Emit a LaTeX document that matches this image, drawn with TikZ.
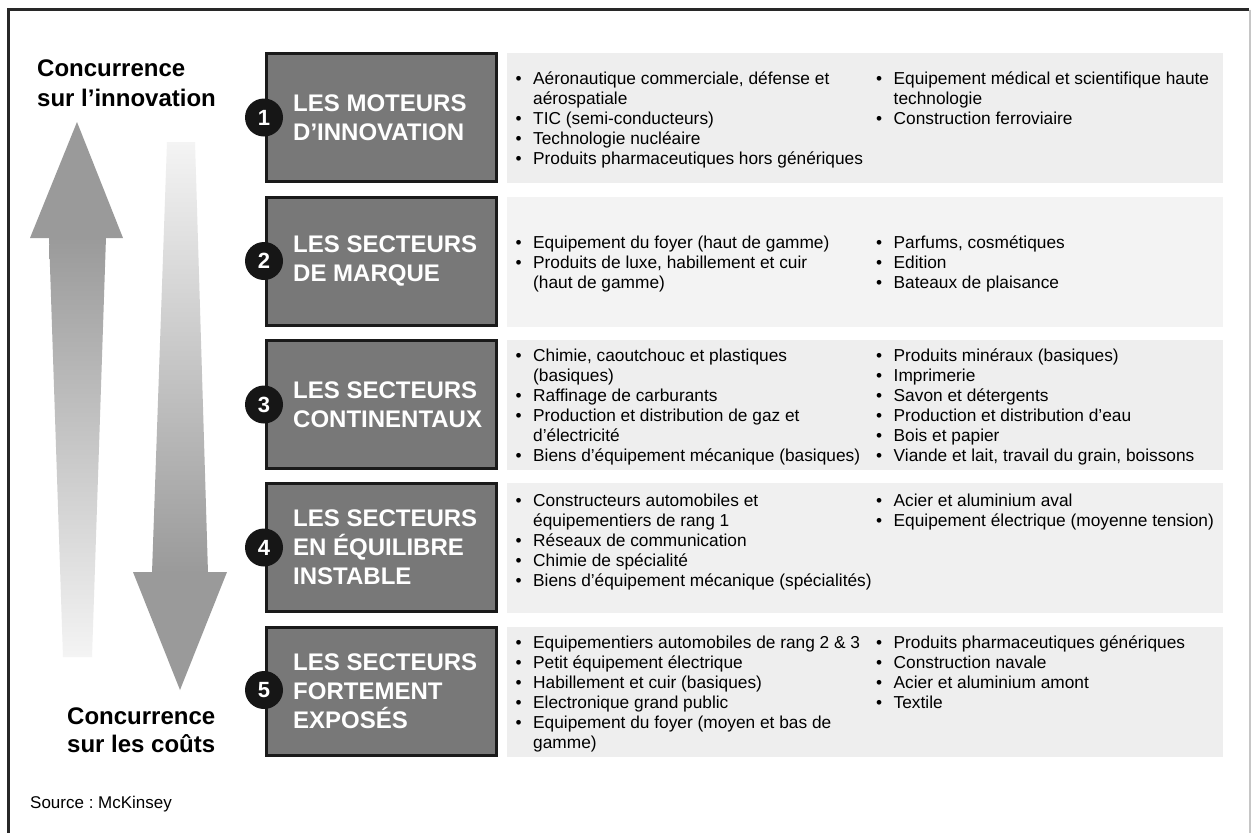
\documentclass[tikz,border=0pt]{standalone}
\usepackage{fontspec}
\setmainfont{Liberation Sans}
\frenchspacing
\definecolor{boxedge}{RGB}{26,26,26}
\definecolor{darkfill}{RGB}{120,120,120}
\definecolor{dotblack}{RGB}{22,22,22}
\definecolor{arrowgray}{RGB}{154,154,154}
\definecolor{fadegray}{RGB}{244,244,244}
\definecolor{bgA}{RGB}{238,238,238}
\definecolor{bgB}{RGB}{243,243,243}
\definecolor{bgC}{RGB}{240,240,240}
\definecolor{framegray}{RGB}{40,40,40}
\newcommand\itembul{\makebox[17.5pt][l]{\textbullet}}
\newcommand\itemcont{\hspace*{17.5pt}}
\begin{document}
\begin{tikzpicture}[x=1pt,y=-1pt,
  sector/.style={draw=boxedge, line width=3pt, fill=darkfill, minimum width=230pt, minimum height=128pt, inner sep=0pt},
  listbg/.style={fill=#1, minimum width=716pt, minimum height=130pt, inner sep=0pt},
  numdot/.style={circle, fill=dotblack, minimum size=38pt, inner sep=0pt, text=white, font=\fontsize{22}{22}\selectfont\bfseries},
  head/.style={anchor=west, align=left, text=white, inner sep=0pt, font=\fontsize{24}{29}\selectfont\bfseries},
  items/.style={anchor=north west, align=left, inner sep=0pt, font=\fontsize{17.3}{20}\selectfont},
  side/.style={anchor=north west, align=left, inner sep=0pt, font=\fontsize{24}{#1}\selectfont\bfseries}
]
\useasboundingbox (0,0) rectangle (1251,833);
\fill[white] (0,0) rectangle (1251,833);

% frame
\draw[line width=2.2pt, framegray] (8.5,833) -- (8.5,9.5) -- (1249,9.5);
\draw[line width=1.2pt, gray!45] (1250,9.5) -- (1250,833);

% upward arrow: innovation
\shade[top color=arrowgray, bottom color=fadegray] (49,237) -- (106,237) -- (92,657) -- (63,657) -- cycle;
\fill[arrowgray] (30,238) -- (77,122) -- (123,238) -- cycle;

% downward arrow: costs
\shade[top color=fadegray, bottom color=arrowgray] (167,142) -- (195,142) -- (208,573) -- (152,573) -- cycle;
\fill[arrowgray] (133,572) -- (227,572) -- (180,690) -- cycle;

\node[side=30] (topcap) at (37,60) {Concurrence\\sur l’innovation};
\node[side=28] (botcap) at (67,708) {Concurrence\\sur les coûts};

% list backgrounds
\node[listbg=bgA] (bg1) at (865,118) {};
\node[listbg=bgB] (bg2) at (865,262) {};
\node[listbg=bgA] (bg3) at (865,405) {};
\node[listbg=bgC] (bg4) at (865,548) {};
\node[listbg=bgA] (bg5) at (865,692) {};

% sector boxes
\node[sector] (s1) at (381.5,117.5) {};
\node[sector] (s2) at (381.5,261) {};
\node[sector] (s3) at (381.5,404.5) {};
\node[sector] (s4) at (381.5,547.5) {};
\node[sector] (s5) at (381.5,691) {};

\node[head] (h1) at (293,117.5) {LES MOTEURS\\D’INNOVATION};
\node[head] (h2) at (293,261) {LES SECTEURS\\DE MARQUE};
\node[head] (h3) at (293,404.5) {LES SECTEURS\\CONTINENTAUX};
\node[head] (h4) at (293,547.5) {LES SECTEURS\\EN ÉQUILIBRE\\INSTABLE};
\node[head] (h5) at (293,691) {LES SECTEURS\\FORTEMENT\\EXPOSÉS};

\node[numdot] (n1) at (264,117.5) {1};
\node[numdot] (n2) at (264,261) {2};
\node[numdot] (n3) at (264,404.5) {3};
\node[numdot] (n4) at (264,547.5) {4};
\node[numdot] (n5) at (264,690) {5};

% sector 1
\node[items] (a1) at (515.5,70) {\strut\itembul Aéronautique commerciale, défense et\\\itemcont aérospatiale\\\itembul TIC (semi-conducteurs)\\\itembul Technologie nucléaire\\\itembul Produits pharmaceutiques hors génériques};
\node[items] (b1) at (876,70) {\strut\itembul Equipement médical et scientifique haute\\\itemcont technologie\\\itembul Construction ferroviaire};

% sector 2
\node[items] (a2) at (515.5,234) {\strut\itembul Equipement du foyer (haut de gamme)\\\itembul Produits de luxe, habillement et cuir\\\itemcont (haut de gamme)};
\node[items] (b2) at (876,234) {\strut\itembul Parfums, cosmétiques\\\itembul Edition\\\itembul Bateaux de plaisance};

% sector 3
\node[items] (a3) at (515.5,347) {\strut\itembul Chimie, caoutchouc et plastiques\\\itemcont (basiques)\\\itembul Raffinage de carburants\\\itembul Production et distribution de gaz et\\\itemcont d’électricité\\\itembul Biens d’équipement mécanique (basiques)};
\node[items] (b3) at (876,347) {\strut\itembul Produits minéraux (basiques)\\\itembul Imprimerie\\\itembul Savon et détergents\\\itembul Production et distribution d’eau\\\itembul Bois et papier\\\itembul Viande et lait, travail du grain, boissons};

% sector 4
\node[items] (a4) at (515.5,492) {\strut\itembul Constructeurs automobiles et\\\itemcont équipementiers de rang 1\\\itembul Réseaux de communication\\\itembul Chimie de spécialité\\\itembul Biens d’équipement mécanique (spécialités)};
\node[items] (b4) at (876,492) {\strut\itembul Acier et aluminium aval\\\itembul Equipement électrique (moyenne tension)};

% sector 5
\node[items] (a5) at (515.5,634) {\strut\itembul Equipementiers automobiles de rang 2 \& 3\\\itembul Petit équipement électrique\\\itembul Habillement et cuir (basiques)\\\itembul Electronique grand public\\\itembul Equipement du foyer (moyen et bas de\\\itemcont gamme)};
\node[items] (b5) at (876,634) {\strut\itembul Produits pharmaceutiques génériques\\\itembul Construction navale\\\itembul Acier et aluminium amont\\\itembul Textile};

\node[anchor=base west, inner sep=0pt, font=\fontsize{17}{20}\selectfont] (src) at (30,808) {Source : McKinsey};
\end{tikzpicture}
\end{document}
